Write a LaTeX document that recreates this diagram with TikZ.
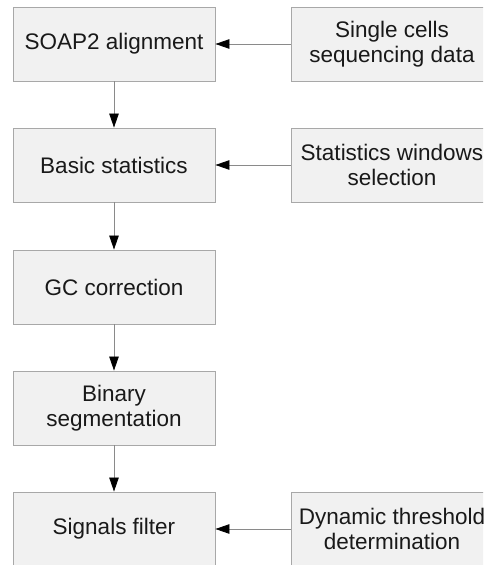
\documentclass[tikz,border=0pt]{standalone}
\usepackage{fontspec}
\setmainfont{Liberation Sans}
\usetikzlibrary{arrows.meta}
\definecolor{boxfill}{HTML}{F1F1F1}
\definecolor{boxline}{HTML}{A8A8A8}
\definecolor{linkline}{HTML}{8A8A8A}
\begin{document}
\begin{tikzpicture}[x=1pt,y=-1pt,
  stage/.style={draw=boxline, fill=boxfill, line width=0.9pt,
    minimum width=202pt, minimum height=74pt, inner sep=0pt,
    align=center, font=\fontsize{22.5}{25.5}\selectfont, text=black!90},
  link/.style={draw=linkline, line width=0.8pt,
    -{Triangle[length=14pt,width=9.5pt,fill=black,color=black]}}]
\useasboundingbox (0,0) rectangle (483,565);
\clip (0,0) rectangle (483,565);
% main pipeline
\node[stage] (align) at (114,44) {SOAP2 alignment};
\node[stage] (stats) at (114,165) {Basic statistics};
\node[stage] (gc)    at (114,287) {GC correction};
\node[stage] (seg)   at (114,408) {Binary\\segmentation};
\node[stage] (filt)  at (114,529) {Signals filter};
% side inputs
\node[stage] (data)  at (392,44)  {Single cells\\sequencing data};
\node[stage] (win)   at (392,165) {Statistics windows\\selection};
\node[stage] (thr)   at (392,529) {Dynamic threshold\\determination};
% connectors
\draw[link] (align) -- (stats);
\draw[link] (stats) -- (gc);
\draw[link] (gc) -- (seg);
\draw[link] (seg) -- (filt);
\draw[link] (data) -- (align);
\draw[link] (win) -- (stats);
\draw[link] (thr) -- (filt);
\end{tikzpicture}
\end{document}
